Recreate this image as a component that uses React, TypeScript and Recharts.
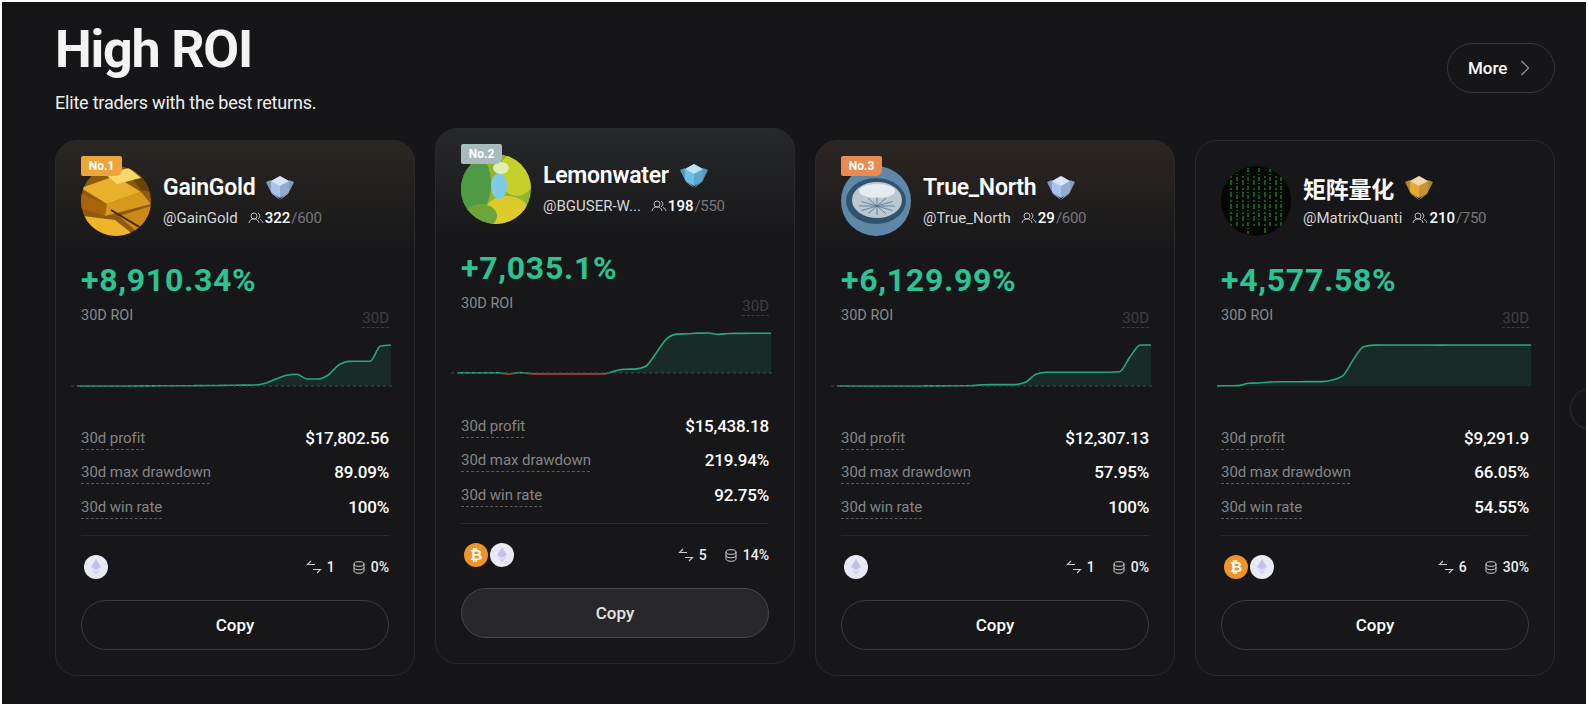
import React from 'react';
import { AreaChart, Area, XAxis, YAxis, ReferenceLine } from 'recharts';

const names = ['GainGold', 'Lemonwater', 'True_North', '矩阵量化'];
const handles = ['@GainGold', '@BGUSER-W...', '@True_North', '@MatrixQuanti'];
const followers = [322, 198, 29, 210];
const followerCaps = [600, 550, 600, 750];
const roiLabels = ['+8,910.34%', '+7,035.1%', '+6,129.99%', '+4,577.58%'];
const profits = ['$17,802.56', '$15,438.18', '$12,307.13', '$9,291.9'];
const drawdowns = ['89.09%', '219.94%', '57.95%', '66.05%'];
const winRates = ['100%', '92.75%', '100%', '54.55%'];
const trades = [1, 5, 1, 6];
const shares = ['0%', '14%', '0%', '30%'];
const coins = [['eth'], ['btc', 'eth'], ['eth'], ['btc', 'eth']];

// 30d ROI curves
const roiGainGold = [0, 0, 0, 0, 0, 10, 20, 30, 40, 50, 60, 70, 80, 100, 130, 170, 190, 210, 590, 1520, 2320, 2540, 1520, 1520, 2390, 4560, 5360, 5370, 5380, 8680, 8910];
const roiLemonwater = [0, 0, 0, 0, 0, -180, 50, -120, -180, -180, -185, -190, -185, -180, -175, 300, 660, 670, 1130, 3420, 5950, 6840, 6900, 7020, 7035, 6790, 6960, 6970, 6980, 6985, 6980];
const roiTrueNorth = [0, 0, 0, 0, 0, 0, 0, 10, 10, 20, 20, 30, 40, 60, 190, 200, 200, 210, 550, 1750, 2050, 2050, 2050, 2050, 2060, 2060, 2060, 2130, 4380, 6120, 6130];
const roiMatrix = [0, 30, 40, 300, 340, 450, 480, 480, 480, 490, 490, 670, 1120, 2900, 4390, 4560, 4570, 4570, 4575, 4577, 4570, 4565, 4570, 4570, 4572, 4570, 4570, 4570, 4570, 4570, 4570];
const roiSeries = [roiGainGold, roiLemonwater, roiTrueNorth, roiMatrix];
const days = roiGainGold.map((_, i) => `D${i + 1}`);

const ROW_LABELS = ['30d profit', '30d max drawdown', '30d win rate'];

const GREEN = '#25a880';
const ROI_GREEN = '#2cc393';
const RED = '#b5483f';
const font = 'Roboto, sans-serif';

const cardLeft = [55, 435, 815, 1195];
const cardTop = [140, 128, 140, 140];
const cardGlow = ['#2a2723', '#272829', '#2c2623', '#171719'];
const medalColors = ['#a9c3ee', '#6cbfe8', '#a9c3ee', '#e3a93a'];
const rankColors = ['#eda53a', '#a7bcbf', '#e98a52'];

const T = ({ x, base, size, color = '#fff', weight = 400, right, children, style }: any) => (
  <div
    style={{
      position: 'absolute',
      top: base - 0.341 * size,
      ...(right !== undefined ? { right } : { left: x }),
      fontFamily: font,
      fontSize: size,
      fontWeight: weight,
      color,
      lineHeight: 0,
      whiteSpace: 'nowrap',
      ...style,
    }}
  >
    {children}
  </div>
);

const Avatar = ({ index }: { index: number }) => {
  const id = `av${index}`;
  const body = [
    <g key="gold">
      <rect width="70" height="70" fill="#8f5a0c" />
      <polygon points="0,22 34,10 60,26 26,38" fill="#e9b02c" />
      <polygon points="0,28 26,38 24,50 0,42" fill="#a8650c" />
      <polygon points="26,38 60,26 70,38 24,50" fill="#d8991c" />
      <polygon points="2,50 34,54 54,70 8,70" fill="#eeb52c" />
      <polygon points="38,50 70,40 70,60 56,66" fill="#c98a16" />
      <polygon points="24,8 48,2 60,12 36,18" fill="#f7d767" />
      <polygon points="52,14 70,10 70,26 60,24" fill="#6b4208" />
      <line x1="30" y1="44" x2="60" y2="62" stroke="#3f2604" strokeWidth="2" />
    </g>,
    <g key="lemon">
      <rect width="70" height="70" fill="#8fb52f" />
      <ellipse cx="14" cy="30" rx="16" ry="30" fill="#4f9a45" />
      <ellipse cx="56" cy="20" rx="18" ry="22" fill="#c7cf2a" />
      <ellipse cx="46" cy="58" rx="22" ry="16" fill="#dccb2b" />
      <ellipse cx="20" cy="62" rx="16" ry="12" fill="#6ba63c" />
      <ellipse cx="38" cy="32" rx="8" ry="13" fill="#7fcbe6" />
      <ellipse cx="40" cy="14" rx="8" ry="6" fill="#e2efb0" />
    </g>,
    <g key="compass">
      <rect width="70" height="70" fill="#5f88a8" />
      <ellipse cx="35" cy="35" rx="30" ry="23" fill="#31536e" />
      <ellipse cx="36" cy="34" rx="25" ry="18" fill="#b9c8d3" />
      <ellipse cx="36" cy="25" rx="18" ry="7" fill="#e6ebef" />
      {[0, 30, 60, 90, 120, 150].map(a => (
        <line key={a} x1={36 - 18 * Math.cos((a * Math.PI) / 180)} y1={40 - 9 * Math.sin((a * Math.PI) / 180)} x2={36 + 18 * Math.cos((a * Math.PI) / 180)} y2={40 + 9 * Math.sin((a * Math.PI) / 180)} stroke="#55748c" strokeWidth="0.8" />
      ))}
    </g>,
    <g key="matrix">
      <rect width="70" height="70" fill="#030603" />
      {[10, 16, 22, 27, 33, 38, 44, 49, 55, 60].map((x, i) => (
        <line key={x} x1={x} x2={x} y1={i % 2 ? 2 : 10} y2={i % 3 ? 62 : 68} stroke="#1b8a26" strokeWidth="1.3" strokeDasharray={i % 2 ? '4 2 1 2' : '2 2 5 3'} />
      ))}
    </g>,
  ];
  return (
    <svg width="70" height="70" style={{ position: 'absolute', left: 25, top: 25 }}>
      <defs>
        <clipPath id={id}>
          <circle cx="35" cy="35" r="35" />
        </clipPath>
      </defs>
      <g clipPath={`url(#${id})`}>{body[index]}</g>
    </svg>
  );
};

const Medal = ({ color }: { color: string }) => (
  <svg width="28" height="26" viewBox="0 0 28 26" style={{ display: 'block' }}>
    <polygon points="0,7 5,5 6,14 14,25 6,19" fill={color} opacity="0.75" />
    <polygon points="28,7 23,5 22,14 14,25 22,19" fill={color} opacity="0.75" />
    <polygon points="14,1 23,6 23,17 14,23 5,17 5,6" fill={color} />
    <polygon points="14,1 23,6 14,11 5,6" fill="#ffffff" opacity="0.55" />
    <polygon points="14,11 23,6 23,17 14,23" fill="#000000" opacity="0.12" />
  </svg>
);

const UsersIcon = () => (
  <svg width="16" height="12" viewBox="0 0 16 12" fill="none" stroke="#bbb" strokeWidth="1">
    <circle cx="6" cy="4" r="3" />
    <path d="M1 11c.5-3 2.500-4 5-4s4.500 1 5 4" />
    <path d="M10 1.200a3 3 0 0 1 0 5.600M12 7.500c1.500.5 2.500 1.700 3 3.500" />
  </svg>
);

const SwapIcon = () => (
  <svg width="16" height="14" viewBox="0 0 16 14" fill="none" stroke="#ccc" strokeWidth="1.1">
    <path d="M5 1 1.500 4.500H9M11 13l3.500-3.500H7" />
  </svg>
);

const StackIcon = () => (
  <svg width="12" height="13" viewBox="0 0 12 13" fill="none" stroke="#ccc" strokeWidth="1">
    <ellipse cx="6" cy="3" rx="5" ry="2.300" />
    <path d="M1 3v7c0 1.300 2.200 2.300 5 2.300s5-1 5-2.300V3M1 6.500c0 1.300 2.200 2.300 5 2.300s5-1 5-2.300" />
  </svg>
);

const Coin = ({ kind }: { kind: string }) =>
  kind === 'btc' ? (
    <div style={{ width: 24, height: 24, borderRadius: 12, background: '#f0932b', color: '#fff', fontFamily: font, fontWeight: 700, fontSize: 15, textAlign: 'center', lineHeight: '24px' }}>₿</div>
  ) : (
    <svg width="24" height="24" viewBox="0 0 24 24" style={{ display: 'block' }}>
      <circle cx="12" cy="12" r="12" fill="#e8eaf5" />
      <polygon points="12,4 17,12 12,15 7,12" fill="#c6c0f0" />
      <polygon points="12,16 16.500,13.500 12,20 7.500,13.500" fill="#d8cff2" />
    </svg>
  );

const RoiChart = ({ index }: { index: number }) => {
  const values = roiSeries[index];
  const data = days.map((day, i) => ({ day, roi: values[i] }));
  const max = Math.max(...values);
  const min = Math.min(...values);
  const split = max / (max - min);
  const hasLoss = min < 0;
  return (
    <div style={{ position: 'absolute', left: 15, top: 200 }}>
      <AreaChart width={324} height={49} data={data} margin={{ top: 4, right: 0, bottom: 4, left: 0 }}>
        <defs>
          <linearGradient id={`stroke${index}`} x1="0" y1="0" x2="0" y2="1">
            <stop offset={split} stopColor={GREEN} />
            <stop offset={split} stopColor={RED} />
          </linearGradient>
          <linearGradient id={`fill${index}`} x1="0" y1="0" x2="0" y2="1">
            <stop offset={split} stopColor="#192b27" />
            <stop offset={split} stopColor="#2a1b1b" />
          </linearGradient>
        </defs>
        <XAxis dataKey="day" hide padding={{ left: 6, right: 4 }} />
        <YAxis hide domain={[min, max]} />
        <Area
          type="monotone"
          dataKey="roi"
          stroke={hasLoss ? `url(#stroke${index})` : GREEN}
          strokeWidth={1.6}
          fill={hasLoss ? `url(#fill${index})` : '#192b27'}
          fillOpacity={1}
          dot={false}
          activeDot={false}
          isAnimationActive={false}
        />
        {index !== 3 && <ReferenceLine y={0} stroke="#48484a" strokeDasharray="3 3" />}
      </AreaChart>
    </div>
  );
};

const Card = ({ index }: { index: number }) => {
  const raised = index === 1;
  const rowValues = [profits[index], drawdowns[index], winRates[index]];
  const rowBase = [302.5, 336.5, 371.5];
  return (
    <div
      style={{
        position: 'absolute',
        left: cardLeft[index],
        top: cardTop[index],
        width: 358,
        height: 534,
        borderRadius: 22,
        border: '1px solid #2a2a2c',
        background: `linear-gradient(180deg, ${cardGlow[index]} 0px, #171719 112px)`,
        overflow: 'hidden',
      }}
    >
      <Avatar index={index} />
      {index < 3 && (
        <div style={{ position: 'absolute', left: 25, top: 15, width: 41, height: 20, background: rankColors[index], borderRadius: '2px 2px 6px 2px', color: '#fff', fontFamily: font, fontWeight: 700, fontSize: 12, textAlign: 'center', lineHeight: '21px' }}>
          No.{index + 1}
        </div>
      )}
      <div style={{ position: 'absolute', left: 107, top: 30, height: 34, display: 'flex', alignItems: 'center', gap: 11 }}>
        <span style={{ fontFamily: index === 3 ? '"Noto Sans CJK SC", sans-serif' : font, fontSize: 23, fontWeight: index === 3 ? 700 : 600, letterSpacing: -0.25, color: '#fff', lineHeight: '34px', whiteSpace: 'nowrap' }}>
          {names[index]}
        </span>
        <Medal color={medalColors[index]} />
      </div>
      <div style={{ position: 'absolute', left: 107, top: 66, height: 22, display: 'flex', alignItems: 'center', fontFamily: font, fontSize: 15, lineHeight: '22px', whiteSpace: 'nowrap' }}>
        <span style={{ color: '#d6d6d6', marginRight: 10 }}>{handles[index]}</span>
        <UsersIcon />
        <span style={{ color: '#fff', fontWeight: 500, marginLeft: 1 }}>{followers[index]}</span>
        <span style={{ color: '#77777a', marginLeft: 1, letterSpacing: -0.3 }}>/{followerCaps[index]}</span>
      </div>
      <T x={25} base={149.5} size={32} color={ROI_GREEN} weight={700} style={{ letterSpacing: 0.7 }}>{roiLabels[index]}</T>
      <T x={25} base={180} size={14.5} color="#8a8a8c">30D ROI</T>
      <div style={{ position: 'absolute', right: 25, top: 169, height: 17, borderBottom: '1px dashed #3d3d40', color: '#3f3f42', fontFamily: font, fontSize: 15, lineHeight: '16px' }}>30D</div>
      <RoiChart index={index} />
      {ROW_LABELS.map((label, i) => (
        <React.Fragment key={label}>
          <T x={25} base={rowBase[i]} size={15} color="#858587" style={{ letterSpacing: -0.05 }}>{label}</T>
          <div style={{ position: 'absolute', left: 25, top: rowBase[i] + 5, width: [63, 129, 81][i], borderBottom: '1px dashed #5a5a5c' }} />
          <T right={25} base={rowBase[i]} size={17} weight={500} style={{ letterSpacing: -0.2 }}>{rowValues[i]}</T>
        </React.Fragment>
      ))}
      <div style={{ position: 'absolute', left: 25, right: 25, top: 394, height: 1, background: '#2a2a2c' }} />
      <div style={{ position: 'absolute', left: 28, top: 414, display: 'flex', gap: 2 }}>
        {coins[index].map(c => <Coin key={c} kind={c} />)}
      </div>
      <div style={{ position: 'absolute', right: 25, top: 416, height: 20, display: 'flex', alignItems: 'center', fontFamily: font, fontSize: 14, color: '#eee', lineHeight: '20px' }}>
        <SwapIcon />
        <span style={{ marginLeft: 5, marginRight: 18, fontWeight: 500 }}>{trades[index]}</span>
        <StackIcon />
        <span style={{ marginLeft: 6, fontWeight: 500 }}>{shares[index]}</span>
      </div>
      <div
        style={{
          position: 'absolute',
          left: 25,
          right: 25,
          top: 459,
          height: 48,
          borderRadius: 25,
          border: raised ? '1px solid #49494b' : '1px solid #3a3a3c',
          background: raised ? '#28282a' : 'transparent',
          color: raised ? '#e4e4e4' : '#fff',
          fontFamily: font,
          fontSize: 17,
          fontWeight: 500,
          textAlign: 'center',
          lineHeight: '48px',
        }}
      >
        Copy
      </div>
    </div>
  );
};

export default function App() {
  return (
    <div style={{ position: 'fixed', inset: 0, background: '#fff', overflow: 'hidden' }}>
      <div style={{ position: 'absolute', left: 2, top: 2, width: 1584, height: 702, background: '#161618' }} />
      <T x={55} base={68} size={52} weight={700} color="#f4f4f4" style={{ letterSpacing: -1.2 }}>High ROI</T>
      <T x={55} base={109} size={18} color="#f0f0f0" style={{ letterSpacing: -0.2 }}>Elite traders with the best returns.</T>
      <div style={{ position: 'absolute', left: 1447, top: 43, width: 106, height: 48, borderRadius: 25, border: '1px solid #38383a' }} />
      <T x={1468} base={74} size={17} weight={500}>More</T>
      <svg width="10" height="16" style={{ position: 'absolute', left: 1520, top: 60 }}>
        <path d="M1.500 1 8.500 8l-7 7" fill="none" stroke="#9a9a9a" strokeWidth="1.200" />
      </svg>
      {names.map((_, i) => <Card key={i} index={i} />)}
      <div style={{ position: 'absolute', left: 1570, top: 388, width: 40, height: 40, borderRadius: 21, border: '1px solid #2c2c2e' }} />
      <div style={{ position: 'absolute', left: 1586, top: 380, width: 4, height: 60, background: '#fff' }} />
    </div>
  );
}
